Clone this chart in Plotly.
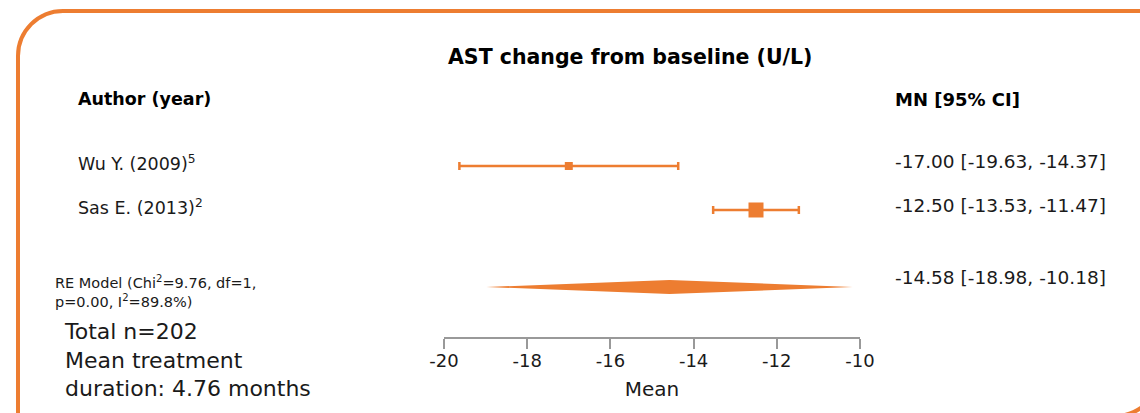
import plotly.graph_objects as go

# ---------------- data ----------------
authors = ["Wu Y. (2009)", "Sas E. (2013)"]
author_refs = ["5", "2"]
means = [-17.00, -12.50]
ci_lo = [-19.63, -13.53]
ci_hi = [-14.37, -11.47]

pooled_mean = -14.58
pooled_lo = -18.98
pooled_hi = -10.18

chi2 = 9.76
dfree = 1
p_value = 0.00
i2 = 89.8
total_n = 202
duration_months = 4.76

x_ticks = [-20, -18, -16, -14, -12, -10]
x_tick_labels = ["-20", "-18", "-16", "-14", "-12", "-10"]

title_text = "AST change from baseline (U/L)"
x_title = "Mean"

# ---------------- styling / layout ----------------
ORANGE = "#ED7D31"
TXT = "#1a1a1a"
FONT = "DejaVu Sans"
W, H = 1140, 413
ML, MR, MT, MB = 444, 280, 120, 76
PW, PH = W - ML - MR, H - MT - MB

study_rows = [2, 1]
pooled_row = -0.75
marker_sizes = [8, 15]
diamond_half = 0.16
y_range = [-1.886, 3.045]


def px2x(px):
    return (px - ML) / PW


def py2y(py):
    return (H - MB - py) / PH


fig = go.Figure()

# study estimates with CIs
fig.add_trace(go.Scatter(
    x=means, y=study_rows, mode="markers", opacity=1,
    marker=dict(symbol="square", size=marker_sizes, color=ORANGE, opacity=1,
                line=dict(width=0, color=ORANGE)),
    error_x=dict(type="data", symmetric=False,
                 array=[h - m for h, m in zip(ci_hi, means)],
                 arrayminus=[m - l for m, l in zip(means, ci_lo)],
                 color=ORANGE, thickness=2.5, width=4),
    cliponaxis=False, hoverinfo="skip", showlegend=False,
))

# pooled diamond
fig.add_trace(go.Scatter(
    x=[pooled_lo, pooled_mean, pooled_hi, pooled_mean, pooled_lo],
    y=[pooled_row, pooled_row + diamond_half, pooled_row, pooled_row - diamond_half, pooled_row],
    mode="lines", fill="toself", fillcolor=ORANGE, line=dict(width=0, color=ORANGE),
    hoverinfo="skip", showlegend=False,
))

ann = []
# title and headers
ann.append(dict(text=f"<b>{title_text}</b>", x=px2x(630), y=py2y(57), xref="paper", yref="paper",
                xanchor="center", yanchor="middle", showarrow=False,
                font=dict(family=FONT, size=20.5, color="#000")))
ann.append(dict(text="<b>Author (year)</b>", x=px2x(76), y=py2y(99), xref="paper", yref="paper",
                xanchor="left", yanchor="middle", showarrow=False,
                font=dict(family=FONT, size=17.5, color="#000")))
ann.append(dict(text="<b>MN [95% CI]</b>", x=px2x(893), y=py2y(99), xref="paper", yref="paper",
                xanchor="left", yanchor="middle", showarrow=False,
                font=dict(family=FONT, size=18, color="#000")))

# study labels and values
for a, r, m, lo, hi, row in zip(authors, author_refs, means, ci_lo, ci_hi, study_rows):
    ann.append(dict(text=f"{a}<sup>{r}</sup>", x=px2x(76), y=row, xref="paper", yref="y",
                    xanchor="left", yanchor="middle", yshift=3, showarrow=False,
                    font=dict(family=FONT, size=17.5, color=TXT)))
    ann.append(dict(text=f"{m:.2f} [{lo:.2f}, {hi:.2f}]", x=px2x(893), y=row, xref="paper", yref="y",
                    xanchor="left", yanchor="middle", yshift=4, showarrow=False,
                    font=dict(family=FONT, size=18.5, color=TXT)))

# pooled value and model text
ann.append(dict(text=f"{pooled_mean:.2f} [{pooled_lo:.2f}, {pooled_hi:.2f}]", x=px2x(893), y=pooled_row,
                xref="paper", yref="y", xanchor="left", yanchor="middle", yshift=10, showarrow=False,
                font=dict(family=FONT, size=18.5, color=TXT)))
ann.append(dict(text=f"RE Model (Chi<sup>2</sup>={chi2:.2f}, df={dfree},<br>p={p_value:.2f}, I<sup>2</sup>={i2:.1f}%)",
                x=px2x(53), y=py2y(291), xref="paper", yref="paper", xanchor="left", yanchor="middle",
                align="left", showarrow=False, font=dict(family=FONT, size=14.5, color=TXT)))
ann.append(dict(text=f"Total n={total_n}<br>Mean treatment<br>duration: {duration_months:.2f} months",
                x=px2x(62), y=py2y(360), xref="paper", yref="paper", xanchor="left", yanchor="middle",
                align="left", showarrow=False, font=dict(family=FONT, size=22, color=TXT)))

# frame: round-diagonal-corner rectangle
R = 45
K = 0.5523 * R
left, top, right, bottom = 18, 11, 1160, 416


def P(px, py):
    return f"{px2x(px):.5f},{py2y(py):.5f}"


frame_path = (
    f"M {P(left, bottom + 20)} L {P(left, top + R)} "
    f"C {P(left, top + R - K)} {P(left + R - K, top)} {P(left + R, top)} "
    f"L {P(right, top)} L {P(right, bottom - R)} "
    f"C {P(right, bottom - R + K)} {P(right - R + K, bottom)} {P(right - R, bottom)} "
    f"L {P(left, bottom)}"
)

fig.update_layout(
    width=W, height=H,
    margin=dict(l=ML, r=MR, t=MT, b=MB),
    paper_bgcolor="white", plot_bgcolor="white",
    annotations=ann,
    shapes=[dict(type="path", path=frame_path, xref="paper", yref="paper",
                 line=dict(color=ORANGE, width=4))],
    xaxis=dict(range=[x_ticks[0], x_ticks[-1]], tickvals=x_ticks, ticktext=x_tick_labels,
               ticks="outside", ticklen=10, ticklabelstandoff=-3,
               tickcolor="#999", tickwidth=1.5, showline=True, linecolor="#999", linewidth=1.5,
               showgrid=False, zeroline=False,
               tickfont=dict(family=FONT, size=18, color=TXT),
               title=dict(text=x_title, font=dict(family=FONT, size=20, color=TXT), standoff=12)),
    yaxis=dict(range=y_range, visible=False, showgrid=False, zeroline=False),
    showlegend=False,
)

fig.write_html("out.html", config={"displayModeBar": False})
